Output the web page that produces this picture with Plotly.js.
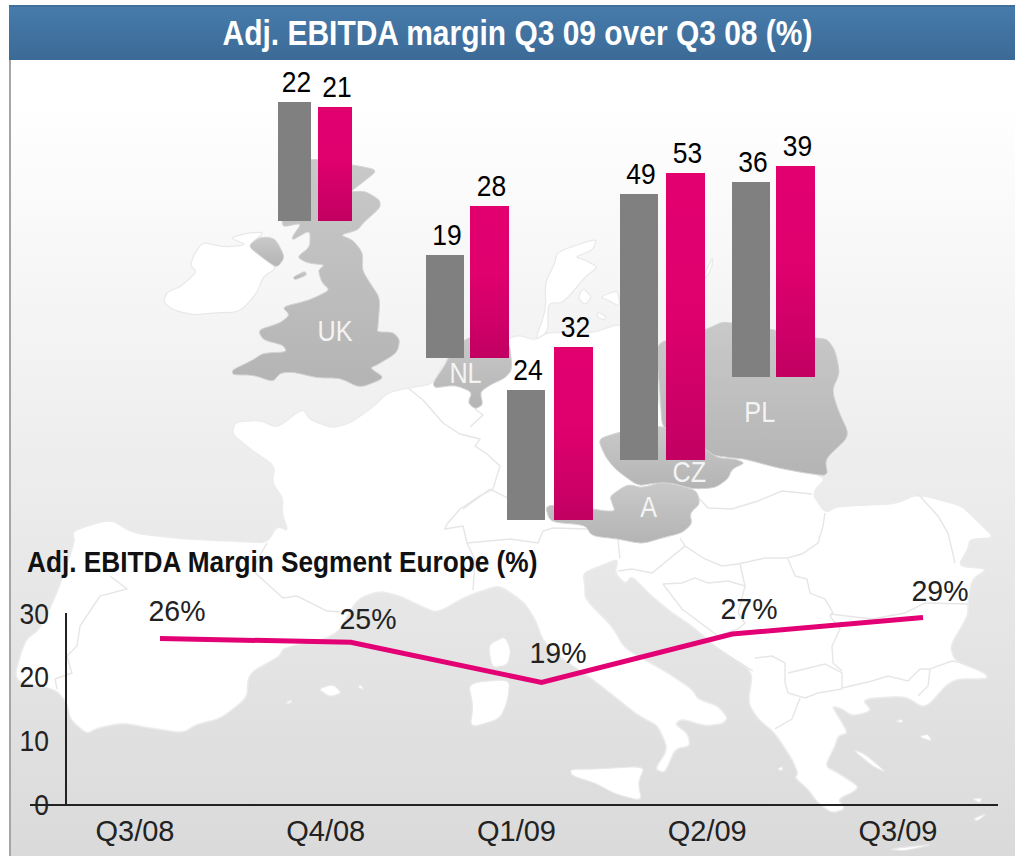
<!DOCTYPE html>
<html>
<head>
<meta charset="utf-8">
<script src="https://cdn.plot.ly/plotly-3.0.1.min.js"></script>
<style>
html,body{margin:0;padding:0;background:#fff;overflow:hidden}
#wrap{position:relative;width:1015px;height:856px;overflow:hidden}
#panel{position:absolute;left:9px;top:60px;width:1006px;height:796px;border-left:2px solid #a6a6a6;box-sizing:border-box;
 background:linear-gradient(to bottom,#fff 0,#fff 5%,#dadada 100%)}
#band{position:absolute;left:9px;top:5px;width:1006px;height:55px;border-top:2px solid #3f6f9b;box-sizing:border-box;
 background:linear-gradient(to bottom,#467bab 0,#3c6a96 100%)}
#chart{position:absolute;left:0;top:0;width:1015px;height:856px}
</style>
</head>
<body>
<div id="wrap"><div id="panel"></div><div id="band"></div><div id="chart"></div></div>
<script>
// ---------- chart data ----------
const countries = ['UK','NL','A','CZ','PL'];
const marginQ308 = [22,19,24,49,36];
const marginQ309 = [21,28,32,53,39];
const quarters = ['Q3/08','Q4/08','Q1/09','Q2/09','Q3/09'];
const segmentMargin = [26,25.4,19.1,26.7,29.3];
const segmentLabels = ['26%','25%','19%','27%','29%'];
const yTicks = [0,10,20,30];

// ---------- placement (not data) ----------
const W = 1015, H = 856;
const unitPx = 5.42;
const barBase = [117.2,91.9,62,73.1,88.3];
const grayLeft = [278,426,507,620,732], grayWidth = [33,38,38,38,38];
const pinkLeft = [318,470,554,666,776], pinkWidth = [34,39,39,39,39];
const labelShiftX = [17,17,16,17,17];
const labelShiftY = [28,24,30,26,27];
const countryLabelPos = [[335,331],[465,373],[649,507],[689,472],[759,412]];

// ---------- background map outlines (pixels) ----------
const land = [[235,422],[260,420],[277,428],[303,408],[310,420],[333,428],[350,423],[373,407],[387,393],[408,388],[433,384],[445,360],[470,335],[505,340],[518,335],[535,340],[548,332],[593,333],[620,323],[655,345],[660,420],[745,460],[828,476],[812,493],[825,513],[838,506],[895,504],[918,494],[962,506],[972,516],[995,538],[970,539],[968,549],[958,566],[988,569],[972,579],[968,603],[968,616],[950,646],[955,661],[985,673],[988,679],[952,679],[925,709],[905,696],[862,699],[872,711],[852,716],[842,709],[832,706],[838,716],[848,733],[838,736],[835,746],[825,766],[838,773],[858,786],[855,791],[838,799],[845,809],[832,813],[818,803],[808,789],[795,778],[798,773],[792,759],[775,733],[758,719],[748,703],[753,671],[718,649],[692,626],[672,613],[648,593],[632,576],[625,584],[615,573],[618,559],[605,564],[583,573],[585,586],[585,599],[612,626],[625,649],[665,671],[692,689],[698,699],[718,706],[728,718],[722,724],[705,726],[682,719],[675,724],[688,734],[690,746],[675,749],[665,773],[655,769],[668,749],[658,726],[645,719],[635,713],[605,689],[588,676],[558,656],[542,639],[537,623],[525,603],[505,589],[497,586],[467,596],[437,613],[420,606],[400,596],[380,591],[357,599],[337,636],[283,648],[280,656],[253,671],[248,679],[247,698],[220,719],[197,724],[183,733],[150,728],[123,723],[97,728],[87,734],[70,719],[67,703],[55,689],[13,681],[25,640],[40,629],[57,593],[75,541],[72,531],[110,519],[133,533],[183,539],[233,541],[267,543],[277,526],[288,531],[282,513],[283,498],[272,483],[275,466],[250,449],[232,434]];
const islands = [
 [[163,302],[167,292],[180,287],[197,272],[190,265],[195,253],[203,242],[223,247],[247,245],[230,238],[247,233],[265,232],[248,246],[263,258],[277,268],[263,277],[257,293],[240,312],[213,313],[193,315],[173,310]],
 [[545,283],[555,263],[557,252],[597,238],[593,250],[575,257],[585,260],[598,267],[585,277],[572,293],[562,303],[548,303],[548,332],[535,340],[546,310]],
 [[583,288],[592,297],[585,305],[578,298]],[[600,297],[618,290],[620,307],[608,300]],[[597,312],[605,315],[605,320],[598,318]],
 [[705,273],[713,257],[712,267],[705,280]],
 [[488,645],[505,636],[511,650],[508,665],[492,668]],
 [[468,683],[510,679],[508,700],[500,719],[470,728],[473,705]],
 [[570,769],[598,769],[645,766],[638,783],[642,801],[615,794],[595,783],[572,776]],
 [[318,689],[333,684],[342,693],[330,697]],[[285,703],[293,699],[290,704]],[[360,684],[365,690],[358,688]],
 [[888,849],[935,844],[905,851]],[[895,721],[903,719],[902,723]],[[920,736],[928,734],[932,741],[922,738]],
 [[852,749],[865,754],[887,773],[872,766]],[[973,819],[987,813],[978,821]],[[972,799],[982,798],[980,803]],[[777,769],[783,766],[782,771]]
];
const borders = [
 [[110,576],[127,589],[100,596],[80,626],[77,646],[67,656],[72,673],[55,679],[57,689]],
 [[267,543],[252,570],[283,598],[297,596],[327,611],[340,612]],
 [[408,388],[423,400],[443,423],[460,434],[480,439],[475,446],[487,454],[500,466],[493,489]],
 [[470,427],[483,415],[475,409]],
 [[493,489],[480,496],[460,509],[447,524],[445,529],[463,526],[467,543],[475,560],[473,590]],
 [[463,509],[490,489],[510,499],[545,505]],
 [[467,543],[510,539],[538,543],[543,531],[553,528],[588,529]],
 [[618,540],[620,558]],[[618,571],[632,569],[652,573],[685,546],[680,538]],
 [[685,546],[705,559],[722,566],[738,564],[765,558],[787,558],[802,554],[818,543],[823,526],[825,513]],
 [[697,496],[708,508],[732,509],[758,501],[782,491],[812,494]],
 [[788,559],[795,576],[807,579],[810,593],[825,599],[833,613],[830,616],[840,629],[832,646],[833,663],[842,671]],
 [[663,584],[682,583],[695,578],[708,583],[728,581],[745,586],[740,564]],
 [[663,584],[682,609],[718,636],[738,629],[745,623],[738,613],[745,586]],
 [[718,649],[753,671]],[[755,658],[772,656],[785,663],[785,683],[788,693],[805,698],[818,693],[842,689],[842,673],[825,664],[788,673]],
 [[800,698],[792,719],[775,729]],
 [[842,688],[872,681],[888,676],[908,681],[920,669],[930,669],[928,686],[918,696]],
 [[930,669],[952,661],[965,663]],
 [[830,614],[872,619],[905,613],[925,603],[968,604]],
 [[918,494],[938,516],[948,533],[955,563]]
];
const outlines = {
 UK:[[310,158],[353,165],[378,170],[362,183],[350,192],[365,191],[380,200],[380,208],[363,223],[358,230],[340,235],[353,240],[363,253],[362,270],[370,283],[380,298],[378,327],[377,332],[393,332],[400,340],[397,353],[377,365],[370,368],[385,378],[360,388],[340,378],[317,378],[293,372],[280,373],[273,382],[253,375],[233,375],[232,370],[253,360],[263,353],[287,352],[283,345],[263,340],[258,330],[280,323],[290,315],[282,307],[310,300],[330,290],[322,283],[318,270],[325,265],[307,263],[297,257],[310,247],[310,230],[293,240],[292,237],[302,223],[283,227],[282,220],[280,200],[300,170]],
 NI:[[248,246],[260,237],[275,238],[285,257],[277,268],[263,258]],
 MAN:[[293,277],[305,271],[307,275],[295,280]],
 NL:[[433,383],[445,365],[455,345],[475,335],[500,335],[510,345],[512,370],[505,378],[490,385],[480,392],[483,405],[475,409],[468,403],[472,392],[455,385],[435,388]],
 PL:[[660,390],[655,345],[680,335],[705,330],[722,322],[732,323],[775,330],[815,338],[827,339],[835,350],[840,373],[832,390],[838,410],[850,436],[825,459],[828,476],[805,473],[778,468],[745,459],[732,458],[705,454],[690,440],[662,430]],
 CZ:[[598,439],[620,432],[665,425],[700,445],[708,451],[718,458],[735,459],[745,463],[732,469],[728,479],[715,488],[692,489],[672,483],[655,483],[638,486],[615,469],[605,456]],
 A:[[610,496],[628,484],[642,488],[662,482],[682,486],[697,491],[700,504],[690,513],[692,524],[682,533],[662,538],[642,544],[618,539],[592,536],[585,525],[550,522],[545,505],[575,506],[605,511],[615,511],[612,503]]
};

// ---------- helpers ----------
const px = x => x / W, py = y => 1 - y / H;
const fmt = p => px(p[0]).toFixed(4)+','+py(p[1]).toFixed(4);
const toward = (a,b,t) => [a[0]+(b[0]-a[0])*t, a[1]+(b[1]-a[1])*t];
// corners are rounded so the coastlines read as organic outlines
function toPath(pts, close){
  if(!close) return pts.map((p,i)=>(i?'L':'M')+fmt(p)).join(' ');
  const n = pts.length, t = 0.32;
  let d = '';
  pts.forEach((p,i)=>{
    const a = toward(p,pts[(i-1+n)%n],t), b = toward(p,pts[(i+1)%n],t);
    d += (i?'L':'M')+fmt(a)+' Q'+fmt(p)+' '+fmt(b)+' ';
  });
  return d+'Z';
}
const mapShape = (pts, fill, line, w, close) => ({type:'path', xref:'paper', yref:'paper', layer:'below', path:toPath(pts,close),
  fillcolor:fill, line:{color:line, width:w}});
const GRAYC = '#bdbdbd';
const shapes = [
  mapShape(land,'#ffffff','#ececec',1.5,true),
  ...islands.map(p=>mapShape(p,'#ffffff','#e8e8e8',1.2,true)),
  ...borders.map(p=>mapShape(p,'rgba(0,0,0,0)','#e6e6e6',1.4,false)),
  ...Object.values(outlines).map(p=>mapShape(p,GRAYC,'#d4d4d4',1,true))
];
const FONT = '"Liberation Sans",Arial,sans-serif';
const centers = (l,w) => l.map((v,i)=>v+w[i]/2);

// ---------- traces ----------
const traces = [
 {type:'bar', name:'Q3/08', x:centers(grayLeft,grayWidth), width:grayWidth, y:marginQ308, base:barBase,
  marker:{color:'#808080',line:{width:0}}, text:marginQ308.map(String), textposition:'outside', cliponaxis:false,
  textfont:{family:FONT,size:30,color:'#000'}, constraintext:'none', xaxis:'x', yaxis:'y', hoverinfo:'skip'},
 {type:'bar', name:'Q3/09', x:centers(pinkLeft,pinkWidth), width:pinkWidth, y:marginQ309, base:barBase,
  marker:{color:'#e2006f',line:{width:0}}, text:marginQ309.map(String), textposition:'outside', cliponaxis:false,
  textfont:{family:FONT,size:30,color:'#000'}, constraintext:'none', xaxis:'x', yaxis:'y', hoverinfo:'skip'},
 {type:'scatter', mode:'lines', name:'Segment Europe', x:quarters, y:segmentMargin, xaxis:'x2', yaxis:'y2',
  line:{color:'#e20074',width:5}, cliponaxis:false, hoverinfo:'skip'},
 {type:'scatter', mode:'lines', x:quarters, y:segmentMargin, xaxis:'x3', yaxis:'y2',
  line:{color:'rgba(0,0,0,0)',width:0}, hoverinfo:'skip', showlegend:false}
];

// ---------- annotations ----------
const SUBTITLE = 'Adj. EBITDA Margin Segment Europe (%)';
const annotations = [
 {xref:'paper',yref:'paper',x:px(282),y:py(562),xanchor:'center',yanchor:'middle',showarrow:false,
  text:SUBTITLE,font:{family:FONT,size:29,weight:700,color:'#111'}},
 ...countries.map((c,i)=>({xref:'paper',yref:'paper',x:px(countryLabelPos[i][0]),y:py(countryLabelPos[i][1]),xanchor:'center',yanchor:'middle',
   showarrow:false,text:c,font:{family:FONT,size:29,color:'#f4f4f4'}})),
 ...quarters.map((q,i)=>({xref:'x2',yref:'y2',x:q,y:segmentMargin[i],xanchor:'center',yanchor:'middle',showarrow:false,
   xshift:labelShiftX[i],yshift:labelShiftY[i],text:segmentLabels[i],font:{family:FONT,size:30,color:'#222'}}))
];

// ---------- layout ----------
const xLo = (30-160)/190.75, xHi = (998-160)/190.75;
const layout = {
 width:W, height:H, margin:{l:0,r:0,t:0,b:0}, showlegend:false,
 paper_bgcolor:'rgba(0,0,0,0)', plot_bgcolor:'rgba(0,0,0,0)',
 title:{text:'Adj. EBITDA margin Q3 09 over Q3 08 (%)',x:517.5/W,xanchor:'center',y:1-33/H,yanchor:'middle',yref:'paper',
   font:{family:FONT,size:35,weight:700,color:'#ffffff'}},
 xaxis:{domain:[0,1],range:[0,W],visible:false,fixedrange:true},
 yaxis:{domain:[0,1],range:[0,H/unitPx],visible:false,fixedrange:true},
 xaxis2:{domain:[px(30),px(998)],range:[xLo,xHi],type:'category',categoryorder:'array',categoryarray:quarters,anchor:'y2',
   showline:true,linecolor:'#222',linewidth:1.5,showgrid:false,zeroline:false,ticks:'',showticklabels:false,fixedrange:true},
 xaxis3:{domain:[px(5),px(973)],range:[xLo,xHi],type:'category',categoryorder:'array',categoryarray:quarters,anchor:'y2',
   showline:false,showgrid:false,zeroline:false,ticks:'',ticklen:0,tickfont:{family:FONT,size:29,color:'#222'},ticklabelstandoff:7,fixedrange:true},
 yaxis2:{domain:[py(804),py(613)],range:[0,30],anchor:'free',overlaying:false,position:px(65),side:'left',tickmode:'array',tickvals:yTicks,ticktext:yTicks.map(String),
   showline:true,linecolor:'#222',linewidth:1.5,showgrid:false,zeroline:false,ticks:'',ticklabelstandoff:10,tickfont:{family:FONT,size:30,color:'#222'},fixedrange:true},
 bargap:0, barmode:'overlay', shapes, annotations
};

Plotly.newPlot('chart',traces,layout,{displayModeBar:false,staticPlot:true}).then(gd=>{
  // gradients for the pink bars and the highlighted countries
  const svg = gd.querySelector('svg.main-svg');
  const NS = 'http://www.w3.org/2000/svg';
  const defs = svg.querySelector('defs');
  const mk = (id,stops)=>{const g=document.createElementNS(NS,'linearGradient');g.setAttribute('id',id);
    g.setAttribute('x1','0');g.setAttribute('y1','0');g.setAttribute('x2','0');g.setAttribute('y2','1');
    stops.forEach(s=>{const t=document.createElementNS(NS,'stop');t.setAttribute('offset',s[0]);t.setAttribute('stop-color',s[1]);g.appendChild(t);});defs.appendChild(g);};
  mk('pinkGrad',[[0,'#e2006f'],[0.45,'#e0006e'],[1,'#c20062']]);
  mk('mapGrad',[[0,'#c9c9c9'],[1,'#b4b4b4']]);
  const tr = gd.querySelectorAll('.barlayer .trace');
  if (tr[1]) tr[1].querySelectorAll('path').forEach(p=>{p.style.fill='url(#pinkGrad)';});
  gd.querySelectorAll('.shapelayer path').forEach(p=>{
    if ((p.style.fill||'').replace(/\s/g,'')==='rgb(189,189,189)') p.style.fill='url(#mapGrad)';
  });
  // the original face is condensed: narrow the installed font to the same text widths
  const narrow = (el,k)=>{const w=el.getComputedTextLength();el.setAttribute('textLength',(w*k).toFixed(1));el.setAttribute('lengthAdjust','spacingAndGlyphs');};
  const all = root => gd.querySelectorAll(root);
  all('.gtitle').forEach(e=>narrow(e,0.856));
  all('.y2tick text').forEach(e=>narrow(e,0.88));
  all('.bartext').forEach(e=>{narrow(e,0.88);
    e.setAttribute('x',(parseFloat(e.getAttribute('x'))+2).toFixed(1));
    e.setAttribute('y',(parseFloat(e.getAttribute('y'))-1).toFixed(1));});
  all('.annotation-text').forEach(e=>{
    const t=e.textContent;
    narrow(e, t===SUBTITLE?0.904 : t.endsWith('%')?0.95 : 0.87);
  });
});
</script>
</body>
</html>
